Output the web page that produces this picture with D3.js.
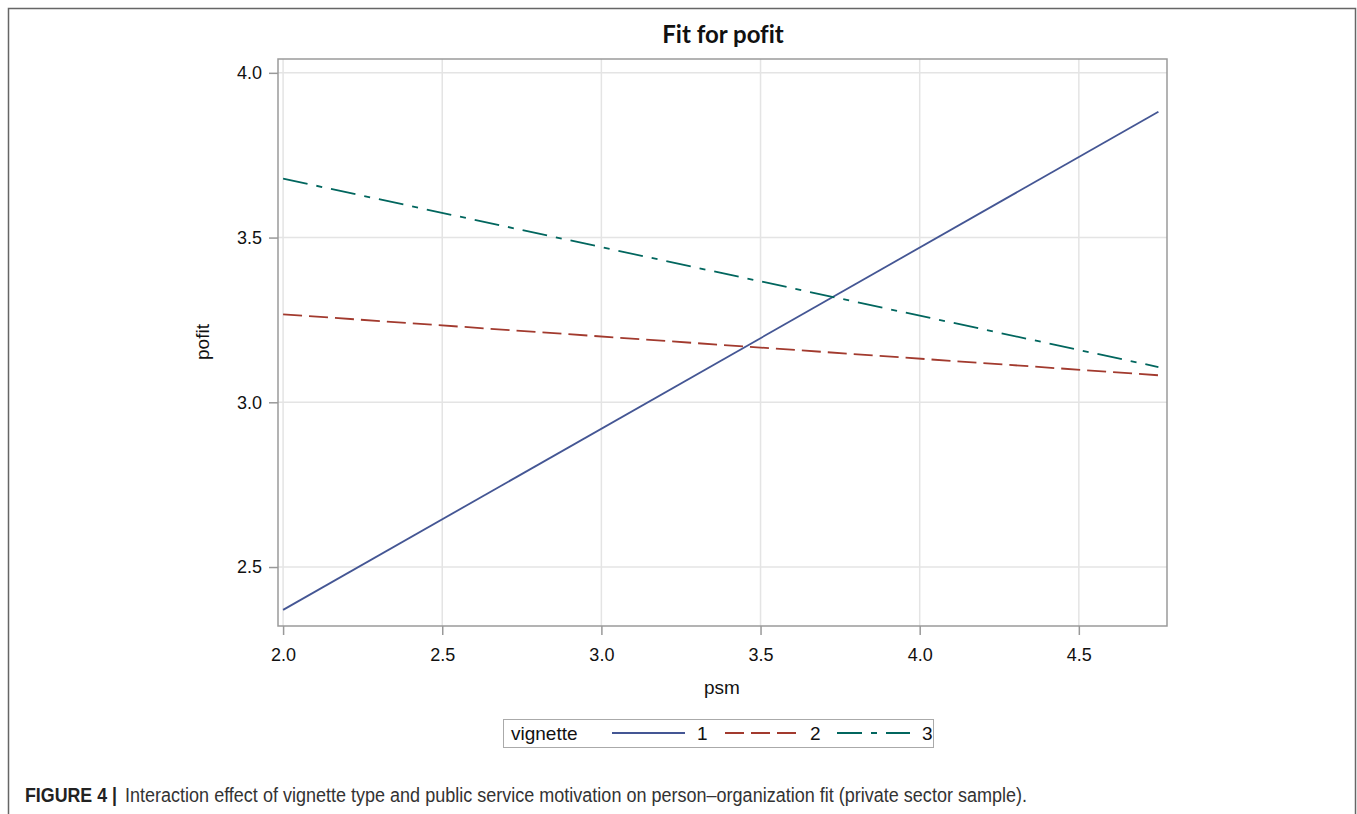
<!DOCTYPE html>
<html>
<head>
<meta charset="utf-8">
<script src="https://cdn.jsdelivr.net/npm/d3@7"></script>
<style>
  body { margin: 0; background: #fff; }
  svg { display: block; }
</style>
</head>
<body>
<div id="chart"></div>
<script>
// fitted lines, two end points per vignette
const psm = [2.0, 4.75];
const pofit1 = [2.37, 3.882];
const pofit2 = [3.267, 3.082];
const pofit3 = [3.679, 3.107];
const vignettes = ['1', '2', '3'];
const xTicks = [2.0, 2.5, 3.0, 3.5, 4.0, 4.5];
const yTicks = [2.5, 3.0, 3.5, 4.0];

const series = [
  {name: vignettes[0], values: pofit1, color: '#445694', dash: null},
  {name: vignettes[1], values: pofit2, color: '#a23a2e', dash: '19,7'},
  {name: vignettes[2], values: pofit3, color: '#01665e', dash: '25,9,6,9'}
];

const font = '"Liberation Sans", Arial, sans-serif';

const svg = d3.select('#chart').append('svg')
    .attr('width', 1357)
    .attr('height', 814);

// outer frame
svg.append('rect')
    .attr('x', 8.5).attr('y', 8.5)
    .attr('width', 1347).attr('height', 820)
    .attr('fill', 'none')
    .attr('stroke', '#666')
    .attr('stroke-width', 1.5);

const margin = {top: 59, left: 278, right: 190, bottom: 188},
    width = 1357 - margin.left - margin.right,
    height = 814 - margin.top - margin.bottom;

const x = d3.scaleLinear().domain([1.984, 4.777]).range([0, width]);
const y = d3.scaleLinear().domain([2.321, 4.042]).range([height, 0]);

const g = svg.append('g')
    .attr('transform', 'translate(' + margin.left + ',' + margin.top + ')');

// grid
g.append('g').selectAll('line')
    .data(xTicks).join('line')
    .attr('x1', d => x(d)).attr('x2', d => x(d))
    .attr('y1', 0).attr('y2', height)
    .attr('stroke', '#e4e4e4').attr('stroke-width', 1.5);

g.append('g').selectAll('line')
    .data(yTicks).join('line')
    .attr('y1', d => y(d)).attr('y2', d => y(d))
    .attr('x1', 0).attr('x2', width)
    .attr('stroke', '#e4e4e4').attr('stroke-width', 1.5);

// plot frame
g.append('rect')
    .attr('width', width).attr('height', height)
    .attr('fill', 'none')
    .attr('stroke', '#9a9a9a')
    .attr('stroke-width', 1.5);

const xAxis = d3.axisBottom(x).tickValues(xTicks).tickFormat(d3.format('.1f'))
    .tickSize(9).tickPadding(13);
const yAxis = d3.axisLeft(y).tickValues(yTicks).tickFormat(d3.format('.1f'))
    .tickSize(9).tickPadding(7);

g.append('g')
    .attr('transform', 'translate(0,' + height + ')')
    .call(xAxis)
    .call(a => a.select('.domain').remove());

g.append('g')
    .call(yAxis)
    .call(a => a.select('.domain').remove());

g.selectAll('.tick line').attr('stroke', '#999').attr('stroke-width', 1.5);
g.selectAll('.tick text')
    .attr('fill', '#111')
    .style('font-family', font)
    .style('font-size', '18px');

// fit lines
const line = d3.line()
    .x((d, i) => x(psm[i]))
    .y(d => y(d));

g.selectAll('.fit')
    .data(series).join('path')
    .attr('class', 'fit')
    .attr('d', d => line(d.values))
    .attr('fill', 'none')
    .attr('stroke', d => d.color)
    .attr('stroke-width', 1.8)
    .attr('stroke-dasharray', d => d.dash);

// titles
svg.append('text')
    .attr('x', 723).attr('y', 43)
    .attr('text-anchor', 'middle')
    .style('font-family', 'Lato, "Open Sans", sans-serif')
    .style('font-weight', 'bold')
    .style('font-size', '24px')
    .style('font-variant-ligatures', 'none')
    .attr('fill', '#111')
    .text('Fit for pofit');

svg.append('text')
    .attr('x', 722).attr('y', 694)
    .attr('text-anchor', 'middle')
    .style('font-family', font)
    .style('font-size', '19px')
    .attr('fill', '#111')
    .text('psm');

svg.append('text')
    .attr('transform', 'translate(209,342) rotate(-90)')
    .attr('text-anchor', 'middle')
    .style('font-family', font)
    .style('font-size', '19px')
    .attr('fill', '#111')
    .text('pofit');

// legend
const legend = svg.append('g');
legend.append('rect')
    .attr('x', 503.5).attr('y', 719.5)
    .attr('width', 430).attr('height', 28)
    .attr('fill', '#fff')
    .attr('stroke', '#aaa')
    .attr('stroke-width', 1);

legend.append('text')
    .attr('x', 511).attr('y', 740)
    .style('font-family', font)
    .style('font-size', '19px')
    .attr('fill', '#111')
    .text('vignette');

const legendX = [612, 725, 837];
const items = legend.selectAll('.item')
    .data(series).join('g')
    .attr('class', 'item')
    .attr('transform', (d, i) => 'translate(' + legendX[i] + ',733)');

items.append('line')
    .attr('x1', 0).attr('x2', 73)
    .attr('stroke', d => d.color)
    .attr('stroke-width', 1.8)
    .attr('stroke-dasharray', d => d.dash);

items.append('text')
    .attr('x', 85).attr('y', 7)
    .style('font-family', font)
    .style('font-size', '19px')
    .attr('fill', '#111')
    .text(d => d.name);

// caption
svg.append('text')
    .attr('x', 25).attr('y', 802)
    .attr('textLength', 92)
    .attr('lengthAdjust', 'spacingAndGlyphs')
    .style('font-family', font)
    .style('font-size', '20px')
    .style('font-weight', 'bold')
    .attr('fill', '#222')
    .text('FIGURE 4 |');

svg.append('text')
    .attr('x', 125).attr('y', 802)
    .attr('textLength', 902)
    .attr('lengthAdjust', 'spacingAndGlyphs')
    .style('font-family', font)
    .style('font-size', '20px')
    .attr('fill', '#333')
    .text('Interaction effect of vignette type and public service motivation on person\u2013organization fit (private sector sample).');
</script>
</body>
</html>
